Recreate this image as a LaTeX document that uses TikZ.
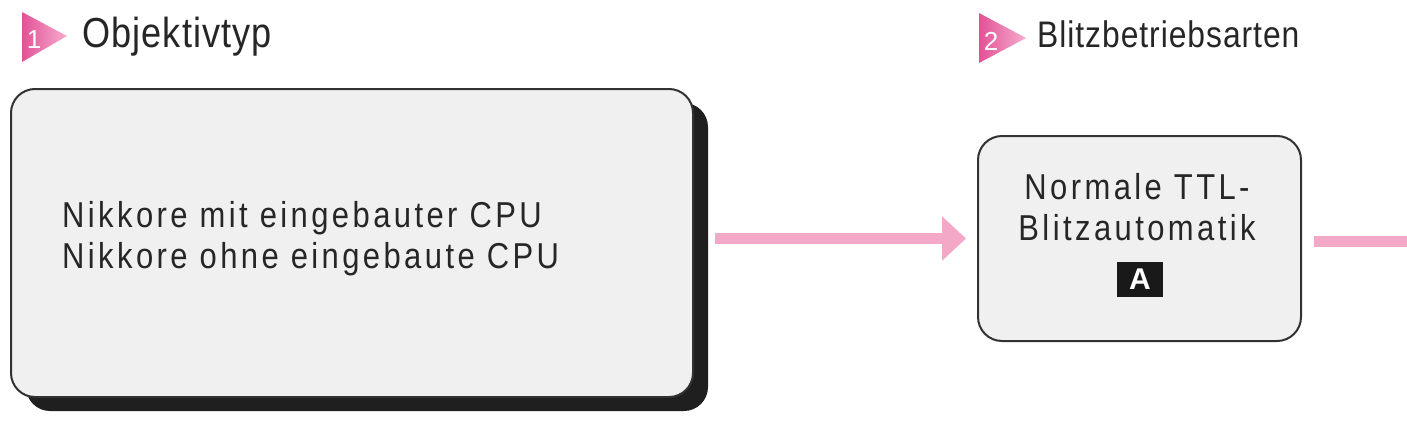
\documentclass[tikz,border=0pt]{standalone}
\usepackage{fontspec}
\setmainfont{Liberation Sans}
\newfontfamily\condfont[FakeStretch=0.86,LetterSpace=9.5]{Liberation Sans}
\newfontfamily\headfont[FakeStretch=0.86,LetterSpace=2.6]{Liberation Sans}
\usetikzlibrary{arrows.meta}
\definecolor{pinkarr}{RGB}{243,168,200}
\definecolor{pinkdark}{RGB}{226,82,150}
\definecolor{pinklight}{RGB}{246,172,206}
\definecolor{boxfill}{RGB}{240,240,240}
\definecolor{boxline}{RGB}{50,50,50}
\tikzset{
  boxstyle/.style={draw=boxline, line width=2pt, fill=boxfill, rounded corners=24pt, anchor=north west, inner sep=0pt},
  bodytext/.style={inner sep=0pt, text=black!85, font=\condfont\fontsize{36}{41}\selectfont},
  headtext/.style={inner sep=0pt, anchor=base west, text=black!85},
  numtext/.style={inner sep=0pt, anchor=base, text=white, font=\fontsize{26}{26}\selectfont},
  pinkarrow/.style={draw=pinkarr, line width=11pt, -{Triangle[length=24pt,width=43pt]}},
  pinkline/.style={draw=pinkarr, line width=11pt},
  badge/.style={fill=black!90, text=white, inner sep=0pt, minimum width=46pt, minimum height=35pt, font=\bfseries\fontsize{30}{30}\selectfont}
}
\begin{document}
\begin{tikzpicture}[x=1pt,y=-1pt]
\useasboundingbox[fill=white] (0,0) rectangle (1407,423);
% header 1
\shade[left color=pinkdark, right color=pinklight] (22,12) -- (67,36) -- (22,62) -- cycle;
\node[numtext] (n1) at (34,48) {1};
\node[headtext, font=\headfont\fontsize{42}{42}\selectfont] (h1) at (82,47) {Objektivtyp};
% header 2
\shade[left color=pinkdark, right color=pinklight] (979,13) -- (1026,38) -- (979,63) -- cycle;
\node[numtext] (n2) at (991,50) {2};
\node[headtext, font=\headfont\fontsize{37}{37}\selectfont] (h2) at (1037,47) {Blitzbetriebsarten};
% box 1 with shadow
\fill[black!88, rounded corners=24pt] (26,103) rectangle (708,411);
\node[boxstyle, minimum width=682pt, minimum height=308pt] (b1) at (10,88) {};
\node[bodytext, anchor=base west, align=left] (t1) at (62,268) {Nikkore mit eingebauter CPU\\Nikkore ohne eingebaute CPU};
% box 2
\node[boxstyle, minimum width=323pt, minimum height=205pt] (b2) at (977,135) {};
\node[bodytext, anchor=base, align=center] (t2) at (1137,240) {Normale TTL-\\Blitzautomatik};
\node[badge] (a) at (1140,279.5) {A};
% connectors
\coordinate (rightend) at (1407,241);
\draw[pinkarrow] ([xshift=21pt]b1.east |- b2.west) -- ([xshift=-11pt]b2.west);
\draw[pinkline] ([xshift=12pt]b2.east |- rightend) -- (rightend);
\end{tikzpicture}
\end{document}
